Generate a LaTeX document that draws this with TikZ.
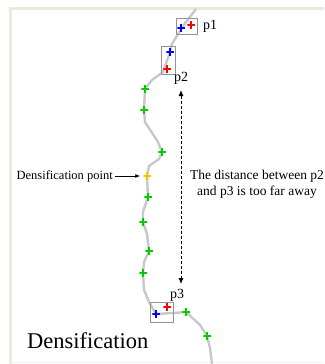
\documentclass[tikz,border=0pt]{standalone}
\usepackage{fontspec}
\setmainfont{Liberation Serif}
\usetikzlibrary{arrows.meta}
\definecolor{framec}{HTML}{E6EBDC}
\definecolor{trailc}{HTML}{C8C8C8}
\definecolor{pgreen}{HTML}{00CC00}
\definecolor{pblue}{HTML}{0000FF}
\definecolor{pred}{HTML}{FF0000}
\definecolor{pyellow}{HTML}{FFC000}
\tikzset{
  pl/.style={minimum size=7.5pt, inner sep=0pt, outer sep=0pt,
    path picture={\draw[line width=1.9pt,#1]
      (path picture bounding box.north)--(path picture bounding box.south)
      (path picture bounding box.west)--(path picture bounding box.east);}},
  trail/.style={draw=trailc, line width=2.4pt, line join=round},
  ptbox/.style={draw=gray!85, line width=0.8pt},
  lbl/.style={font=\fontsize{14}{16}\selectfont, inner sep=0pt},
  note/.style={font=\fontsize{13.5}{16}\selectfont, inner sep=0pt, align=center},
  dist/.style={densely dashed, line width=0.9pt, {Latex[length=6pt,width=5pt]}-{Latex[length=6pt,width=5pt]}},
}
\begin{document}
\begin{tikzpicture}[x=1pt,y=-1pt]
\useasboundingbox (0,0) rectangle (324,364);
% frame
\draw[framec, line width=2.2pt] (10.5,364) -- (10.5,8.5) -- (324,8.5);
\draw[framec!60, line width=1pt] (10.5,362.5) -- (324,362.5);
% trail
\draw[trail] (196,9) -- (186,22) -- (178,34) -- (172,44) -- (168,58) -- (163,72)
  -- (152,80) -- (145,89) -- (144,110) -- (145,122) -- (158,142) -- (162,152)
  -- (159,159) -- (149,166) -- (147,176) -- (148,197) -- (143,212) -- (143,222)
  -- (147,234) -- (149,251) -- (144,262) -- (143,273) -- (144,290) -- (149,302)
  -- (156,314) -- (173,313) -- (186,312) -- (200,325) -- (207,336) -- (210,348) -- (212,364);
% point boxes
\draw[ptbox] (176,18) rectangle (197,34);
\draw[ptbox] (161,46) rectangle (175,74);
\draw[ptbox] (150,302) rectangle (173,322);
% markers
\node[pl=pblue] (b1) at (181,28) {};
\node[pl=pred] (r1) at (191,25) {};
\node[pl=pblue] (b2) at (170,52) {};
\node[pl=pred] (r2) at (167,69) {};
\node[pl=pgreen] (g1) at (145,89) {};
\node[pl=pgreen] (g2) at (144,110) {};
\node[pl=pgreen] (g3) at (162,152) {};
\node[pl=pyellow] (y1) at (147,176) {};
\node[pl=pgreen] (g4) at (148,197) {};
\node[pl=pgreen] (g5) at (143,222) {};
\node[pl=pgreen] (g6) at (149,251) {};
\node[pl=pgreen] (g7) at (143,273) {};
\node[pl=pblue] (b3) at (156,314) {};
\node[pl=pred] (r3) at (167,307) {};
\node[pl=pgreen] (g8) at (186,312) {};
\node[pl=pgreen] (g9) at (207,336) {};
% labels
\node[lbl, anchor=west] (p1) at (203,26) {p1};
\node[lbl, anchor=west] (p2) at (174,78) {p2};
\node[lbl, anchor=west] (p3) at (170,295) {p3};
% distance arrow
\coordinate (da) at (181,90);
\coordinate (db) at (181,284);
\draw[dist] (da) -- (db);
\node[note] (dtext) at (257,184) {The distance between p2\\and p3 is too far away};
% densification point
\node[font=\fontsize{12.5}{15}\selectfont, inner sep=0pt, anchor=east] (dp) at (113,176) {Densification point};
\draw[-{Latex[length=5pt,width=4pt]}, line width=0.8pt] ([xshift=2pt]dp.east) -- ([xshift=-3pt]y1.west);
% title
\node[font=\fontsize{22.5}{26}\selectfont, anchor=west, inner sep=0pt] (title) at (27,341) {Densification};
\end{tikzpicture}
\end{document}
